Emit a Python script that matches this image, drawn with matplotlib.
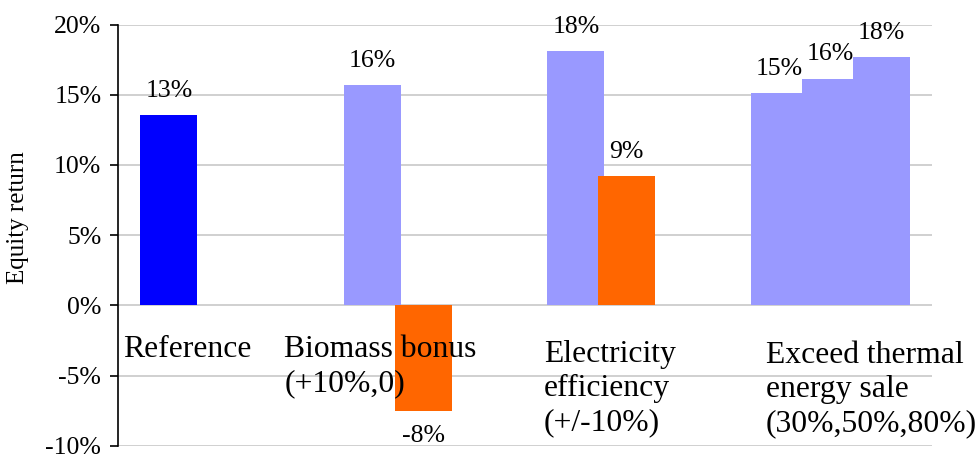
import matplotlib
matplotlib.use("Agg")
import matplotlib.pyplot as plt
from matplotlib.ticker import FuncFormatter

plt.rcParams['font.family'] = ['Liberation Serif', 'DejaVu Serif']
plt.rcParams['axes.unicode_minus'] = False

# ---- data ----
categories = ["Reference", "Biomass bonus\n(+10%,0)", "Electricity\nefficiency\n(+/-10%)",
              "Exceed thermal\nenergy sale\n(30%,50%,80%)"]
# equity return (%) per series slot within each category (None = no bar)
series1 = [13.55, 15.7, 18.1, 15.1]
series2 = [None, -7.55, 9.2, 16.15]
series3 = [None, None, None, 17.65]
series1_labels = ["13%", "16%", "18%", "15%"]
series2_labels = [None, "-8%", "9%", "16%"]
series3_labels = [None, None, None, "18%"]
series1_colors = ["#0000ff", "#9999ff", "#9999ff", "#9999ff"]
series2_colors = [None, "#ff6600", "#ff6600", "#9999ff"]
series3_colors = [None, None, None, "#9999ff"]
y_ticks = [-10, -5, 0, 5, 10, 15, 20]
y_label = "Equity return"

# ---- layout ----
W, H = 979, 455
fig = plt.figure(figsize=(W / 100, H / 100), dpi=100)
left_px, right_px = 118, 932
top_px, bot_px = 24.5, 445.7
ax = fig.add_axes([left_px / W, 1 - bot_px / H, (right_px - left_px) / W, (bot_px - top_px) / H])
ax.set_xlim(0, len(categories))
ax.set_ylim(-10, 20)

ax.set_yticks(y_ticks)
ax.yaxis.set_major_formatter(FuncFormatter(lambda v, p: f"{int(round(v))}%"))
ax.tick_params(axis='y', direction='out', length=6, width=1.2, pad=6, labelsize=18.5, colors='black')
ax.tick_params(axis='x', bottom=False, labelbottom=False)
for s in ['top', 'right', 'bottom']:
    ax.spines[s].set_visible(False)
ax.spines['left'].set_linewidth(1.2)
ax.yaxis.grid(True, color='#c4c4c4', linewidth=1.1)
ax.set_axisbelow(True)

bar_w = 0.28
slot_start = 0.11
slot_step = 0.25

all_series = [(series1, series1_labels, series1_colors),
              (series2, series2_labels, series2_colors),
              (series3, series3_labels, series3_colors)]
for si, (vals, labs, cols) in enumerate(all_series):
    for ci, v in enumerate(vals):
        if v is None:
            continue
        x0 = ci + slot_start + si * slot_step
        ax.bar(x0, v, width=bar_w, align='edge', color=cols[ci], edgecolor='none', zorder=2 + si)
        xc = x0 + bar_w / 2
        if v >= 0:
            ax.annotate(labs[ci], (xc, v), xytext=(0, 13), textcoords='offset points',
                        ha='center', va='baseline', fontsize=18.5, zorder=10)
        else:
            ax.annotate(labs[ci], (xc, v), xytext=(0, -10), textcoords='offset points',
                        ha='center', va='top', fontsize=18.5, zorder=10)

# category labels placed inside plot area (top of first line)
cat_x = [0.025, 0.817, 2.093, 3.183]
cat_y = [-2.12, -2.12, -2.44, -2.51]
for ci, name in enumerate(categories):
    ax.text(cat_x[ci], cat_y[ci], name, ha='left', va='top', fontsize=22.8,
            linespacing=1.25, zorder=12)

fig.text(18 / W, 1 - 218 / H, y_label, rotation=90, ha='center', va='center', fontsize=18)

fig.savefig("out.png", dpi=100)
